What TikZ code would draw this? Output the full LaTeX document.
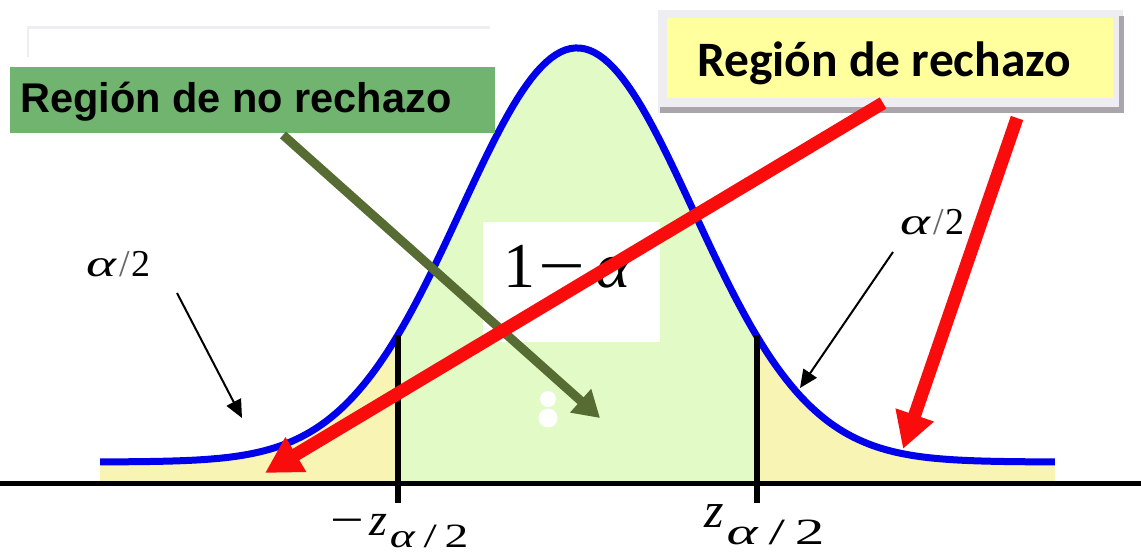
\documentclass[tikz,border=0pt]{standalone}
\usepackage{fontspec}
\setmainfont{Liberation Serif}
\newfontfamily\arialfont{Liberation Sans}
\newfontfamily\calibrifont{Carlito}
\newcommand{\fsz}[1]{\fontsize{#1}{#1}\selectfont}
\usetikzlibrary{arrows.meta}
\definecolor{curveblue}{RGB}{0,0,235}
\definecolor{fillgreen}{RGB}{226,250,198}
\definecolor{fillyellow}{RGB}{248,244,180}
\definecolor{boxgreen}{RGB}{112,180,112}
\definecolor{boxyellow}{RGB}{255,255,158}
\definecolor{olivearrow}{RGB}{86,108,50}
\definecolor{arrowred}{RGB}{250,12,12}
\definecolor{framegray}{RGB}{238,238,242}
\definecolor{shadowgray}{RGB}{170,165,170}
\tikzset{
  redarrow/.style={draw=arrowred, line width=13pt, -{Triangle[length=36pt,width=38pt]}},
  olivearr/.style={draw=olivearrow, line width=9pt, -{Triangle[length=26pt,width=30pt]}},
  thinarrow/.style={draw=black, line width=2pt, -{Triangle[length=18pt,width=16pt]}},
  mathlabel/.style={inner sep=0pt, text=black},
  axisline/.style={draw=black, line width=5pt},
  tickline/.style={draw=black, line width=6pt}
}
\begin{document}
\begin{tikzpicture}[x=1pt,y=-1pt]
\useasboundingbox (0,0) rectangle (1141,553);
\fill[white] (0,0) rectangle (1141,553);
% faint frame remnant
\draw[framegray, line width=3pt] (27,28) -- (490,28);
\draw[framegray, line width=1.5pt] (28,28) -- (28,57);
% fills under curve
\fill[fillyellow] (100,483) -- plot[domain=-4.094:-1.5365,samples=80] ({577+116.5*\x},{462-414*exp(-0.5*(\x)*(\x))}) -- (398,483) -- cycle;
\fill[fillyellow] (757,483) -- plot[domain=1.545:4.103,samples=80] ({577+116.5*\x},{462-414*exp(-0.5*(\x)*(\x))}) -- (1055,483) -- cycle;
\fill[fillgreen] (398,483) -- plot[domain=-1.5365:1.545,samples=100] ({577+116.5*\x},{462-414*exp(-0.5*(\x)*(\x))}) -- (757,483) -- cycle;
% white box and blob
\fill[white] (483,222) rectangle (660,342);
\fill[white] (548,399) circle (8);
\fill[white] (548,418) circle (9.5);
\node[mathlabel, anchor=base west, font=\fsz{64}] (oma) at (503,288) {1\hspace{3pt}\scalebox{1.3}[1]{−}\hspace{10pt}\scalebox{1.05}[1]{\textit{α}}};
% curve
\draw[curveblue, line width=7pt, line join=round] plot[domain=-4.094:4.103,samples=200] ({577+116.5*\x},{462-414*exp(-0.5*(\x)*(\x))});
% axis and ticks
\draw[axisline] (0,483) -- (1141,483);
\draw[tickline] (398,335) -- (398,503);
\draw[tickline] (757,335) -- (757,503);
% z labels
\node[mathlabel, anchor=base west] (zl) at (330,535) {{\fsz{46}\scalebox{1.3}[1]{−}\hspace{6pt}\textit{z}}\hspace{2pt}\raisebox{-12pt}{\scalebox{1.4}[1]{\fsz{34}\textit{α}\,/\,2}}};
\node[mathlabel, anchor=base west] (zr) at (704,527) {{\fsz{50}\textit{z}}\hspace{3pt}\raisebox{-17pt}{\scalebox{1.6}[1]{\fsz{37}\textit{α}\,/\,2}}};
% alpha/2 labels
\node[mathlabel, anchor=base west] (al) at (86,277) {\fsz{38}\scalebox{1.5}[1]{\textit{α}}\hspace{2pt}\textcolor{black!60}{/}\hspace{2pt}2};
\node[mathlabel, anchor=base west] (ar) at (900,235) {\fsz{38}\scalebox{1.5}[1]{\textit{α}}\hspace{2pt}\textcolor{black!60}{/}\hspace{2pt}2};
% boxes
\node[fill=boxgreen, anchor=north west, minimum width=485pt, minimum height=66pt, inner sep=0pt] (nr) at (10,67) {};
\node[anchor=base west, inner sep=0pt, font={\arialfont\bfseries\fsz{41.5}}] (nrt) at (20,113) {Región de no rechazo};
\fill[framegray] (658,10) rectangle (1123,113);
\fill[shadowgray] (660,107) rectangle (1123,113);
\fill[shadowgray] (1119,16) rectangle (1124,113);
\node[fill=boxyellow, anchor=north west, minimum width=446pt, minimum height=80pt, inner sep=0pt] (rr) at (667,18) {};
\node[anchor=base west, inner sep=0pt, font={\calibrifont\bfseries\fsz{49.5}}] (rrt) at (697,77) {Región de rechazo};
% arrow endpoints
\coordinate (g1) at (283,135);
\coordinate (g2) at (600,418);
\coordinate (r1s) at (883,103);
\coordinate (r1e) at (265,473);
\coordinate (r2s) at (1017,118);
\coordinate (r2e) at (903,449);
\coordinate (b1s) at (177,293);
\coordinate (b1e) at (242,418);
\coordinate (b2s) at (893,252);
\coordinate (b2e) at (800,388);
% arrows
\draw[olivearr] (g1) -- (g2);
\draw[redarrow] (r1s) -- (r1e);
\draw[redarrow] (r2s) -- (r2e);
\draw[thinarrow] (b1s) -- (b1e);
\draw[thinarrow] (b2s) -- (b2e);
\end{tikzpicture}
\end{document}
